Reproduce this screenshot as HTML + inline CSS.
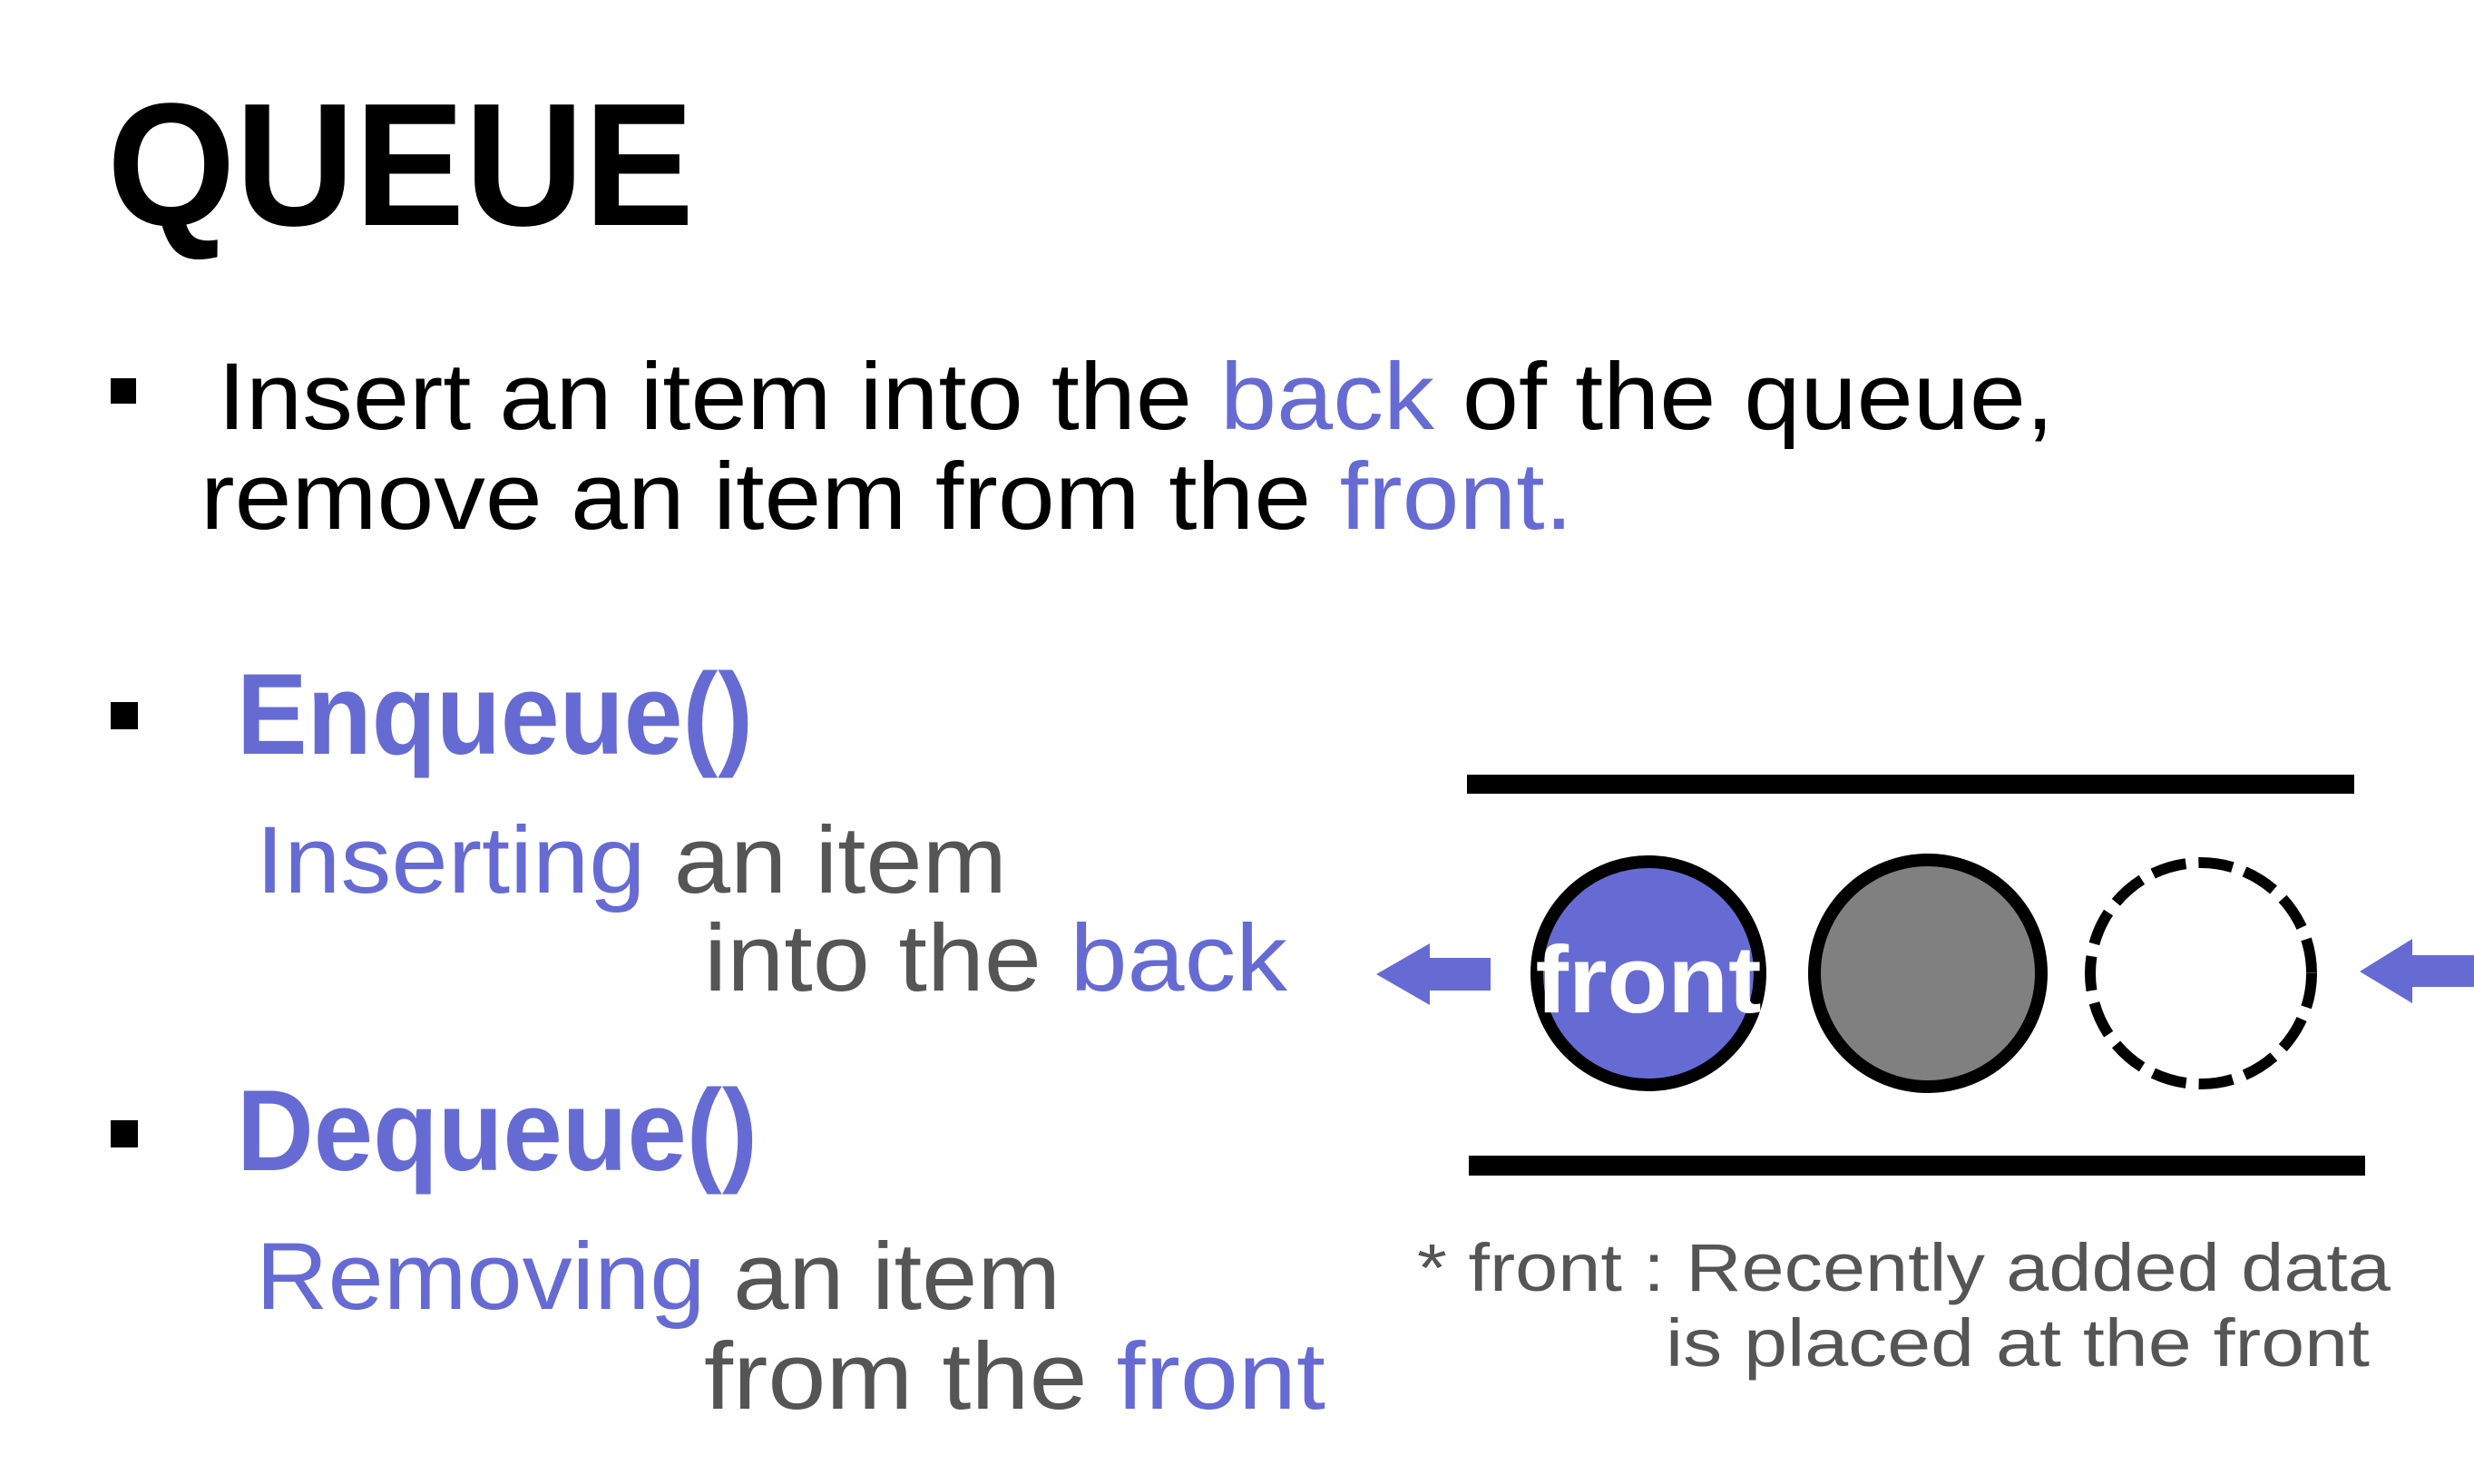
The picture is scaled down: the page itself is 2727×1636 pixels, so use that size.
<!DOCTYPE html>
<html><head><meta charset="utf-8"><style>
html,body{margin:0;padding:0;background:#fff;}
svg{display:block;}
text{font-family:"Liberation Sans","Noto Sans CJK KR",sans-serif;}
</style></head><body>
<svg width="2727" height="1636" viewBox="0 0 2727 1636">
<rect width="2727" height="1636" fill="#fff"/>
<text x="118" y="248" font-size="193" font-weight="bold" textLength="647" lengthAdjust="spacingAndGlyphs">QUEUE</text>

<rect x="122" y="417" width="28" height="28" fill="#000"/>
<text x="240" y="473" font-size="105" textLength="2024" lengthAdjust="spacingAndGlyphs">Insert an item into the <tspan fill="#666bd4">back</tspan> of the queue,</text>
<text x="221" y="583" font-size="105" textLength="1513" lengthAdjust="spacingAndGlyphs">remove an item from the <tspan fill="#666bd4">front.</tspan></text>

<rect x="122" y="774" width="30" height="30" fill="#000"/>
<text x="261" y="831" font-size="127" font-weight="bold" fill="#666bd4" textLength="569" lengthAdjust="spacingAndGlyphs">Enqueue()</text>
<text x="282" y="984" font-size="105" fill="#555" textLength="828" lengthAdjust="spacingAndGlyphs"><tspan fill="#666bd4">Inserting</tspan> an item</text>
<text x="776" y="1092" font-size="105" fill="#555" textLength="643" lengthAdjust="spacingAndGlyphs">into the <tspan fill="#666bd4">back</tspan></text>

<rect x="122" y="1235" width="30" height="30" fill="#000"/>
<text x="261" y="1290" font-size="127" font-weight="bold" fill="#666bd4" textLength="574" lengthAdjust="spacingAndGlyphs">Dequeue()</text>
<text x="282" y="1443" font-size="105" fill="#555" textLength="887" lengthAdjust="spacingAndGlyphs"><tspan fill="#666bd4">Removing</tspan> an item</text>
<text x="776" y="1553" font-size="105" fill="#555" textLength="685" lengthAdjust="spacingAndGlyphs">from the <tspan fill="#666bd4">front</tspan></text>

<rect x="1617" y="854" width="978" height="21" fill="#000"/>
<rect x="1619" y="1274" width="988" height="22" fill="#000"/>

<polygon points="1517,1074 1576,1040 1576,1056 1643,1056 1643,1092 1576,1092 1576,1108" fill="#666bd4"/>
<polygon points="2601,1071 2659,1035 2659,1053 2727,1053 2727,1088 2659,1088 2659,1106" fill="#666bd4"/>

<circle cx="1817" cy="1073" r="123" fill="#666bd4" stroke="#000" stroke-width="14"/>
<text x="1817" y="1116" font-size="105" font-weight="bold" fill="#fff" text-anchor="middle" textLength="249" lengthAdjust="spacingAndGlyphs">front</text>
<circle cx="2125" cy="1073" r="125" fill="#808080" stroke="#000" stroke-width="14"/>
<circle cx="2426" cy="1073" r="122" fill="none" stroke="#000" stroke-width="12" stroke-dasharray="38 14"/>

<text x="1562" y="1423" font-size="74" fill="#555" textLength="1073" lengthAdjust="spacingAndGlyphs">* front : Recently added data</text>
<text x="1836" y="1506" font-size="74" fill="#555" textLength="776" lengthAdjust="spacingAndGlyphs">is placed at the front</text>
</svg>
</body></html>
